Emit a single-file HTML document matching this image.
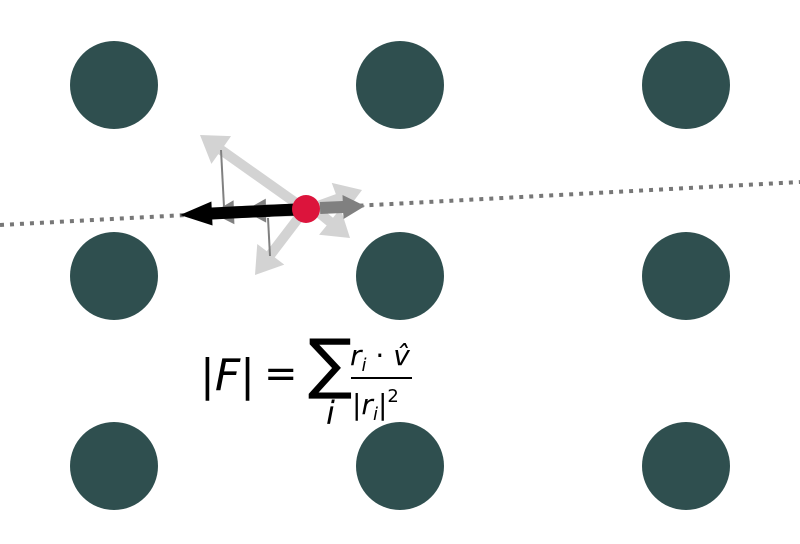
<!DOCTYPE html>
<html><head><meta charset="utf-8"><style>
html,body{margin:0;padding:0;background:#fff;}
svg{display:block;font-family:"DejaVu Sans","Liberation Sans",sans-serif;}
</style></head><body>
<svg id="chart" width="800" height="544" viewBox="0 0 800 544">
<g id="atoms"></g>
<line x1="0" y1="225" x2="800" y2="182" stroke="#777" stroke-width="4" stroke-dasharray="4,6"/>
<g id="forces"></g>
<circle cx="306" cy="209" r="14" fill="#dc143c"/>
<g fill="#000">
<text x="200" y="390" font-size="44" font-style="italic">|F|</text>
<text x="264" y="387" font-size="40">=</text>
<text x="308" y="386" font-size="66">∑</text>
<text x="326" y="424" font-size="32" font-style="italic">i</text>
<text x="350" y="365" font-size="28" font-style="italic">r<tspan font-size="18" dy="6">i</tspan><tspan dy="-6" font-style="normal"> · </tspan>v̂</text>
<line x1="351" y1="378" x2="412" y2="378" stroke="#000" stroke-width="2"/>
<text x="352" y="414" font-size="28" font-style="italic">|r<tspan font-size="18" dy="6">i</tspan><tspan dy="-6">|</tspan><tspan font-style="normal" font-size="18" dy="-12">2</tspan></text>
</g>
</svg>
<script>
const latticeX = [114, 400, 686];
const latticeY = [85, 276, 466];
// force vectors: [x1,y1,x2,y2]
const lightArrows = [[296,203,200,135],[300,216,255,275],[318,206,362,190],[318,212,350,238]];
const projLines = [[221,150,224,207],[268,218,270,256]];
const projArrows = [[270,211,212,213],[300,210,244,211],[320,208,365,206]];
const netForce = [306,209,180,215];
const NS='http://www.w3.org/2000/svg';
const atoms=document.getElementById('atoms');
latticeY.forEach((y,j)=>latticeX.forEach((x,i)=>{
 const c=document.createElementNS(NS,'circle');
 c.setAttribute('cx',x);c.setAttribute('cy',y);c.setAttribute('r',44);c.setAttribute('fill','#2f4f4f');
 
 
 atoms.appendChild(c);}));
const fg=document.getElementById('forces');
function arrow(a,color,w,hw,hl){
 const [x1,y1,x2,y2]=a;const dx=x2-x1,dy=y2-y1,L=Math.hypot(dx,dy),ux=dx/L,uy=dy/L,px=-uy,py=ux;
 const bx=x2-ux*hl,by=y2-uy*hl;
 const p=document.createElementNS(NS,'polygon');
 const pts=[[x1+px*w/2,y1+py*w/2],[bx+px*w/2,by+py*w/2],[bx+px*hw,by+py*hw],[x2,y2],[bx-px*hw,by-py*hw],[bx-px*w/2,by-py*w/2],[x1-px*w/2,y1-py*w/2]];
 p.setAttribute('points',pts.map(q=>q.join(',')).join(' '));p.setAttribute('fill',color);
 
 
 fg.appendChild(p);}
lightArrows.forEach(a=>arrow(a,'#d3d3d3',10,17,26));
projLines.forEach(a=>{const l=document.createElementNS(NS,'line');l.setAttribute('x1',a[0]);l.setAttribute('y1',a[1]);l.setAttribute('x2',a[2]);l.setAttribute('y2',a[3]);l.setAttribute('stroke','#808080');l.setAttribute('stroke-width',2);
 
 
 fg.appendChild(l);});
projArrows.forEach(a=>arrow(a,'#808080',12,12,22));
arrow(netForce,'#000',12,12,32);
</script>
</body></html>
